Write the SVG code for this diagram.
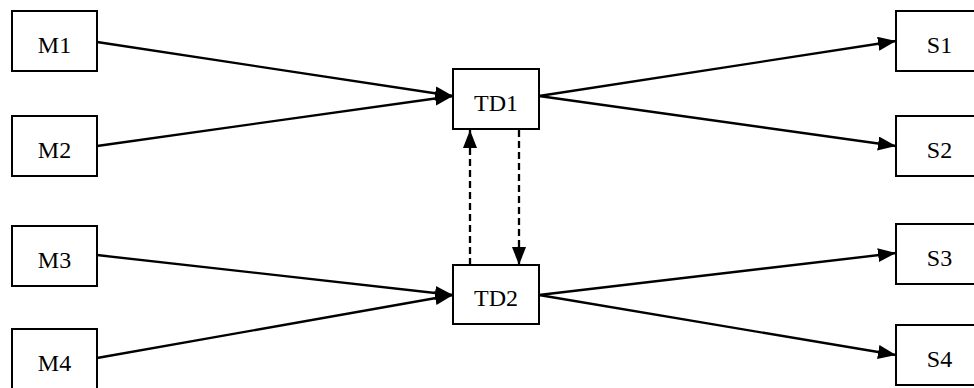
<svg xmlns="http://www.w3.org/2000/svg" width="974" height="388" viewBox="0 0 974 388">
  <style>
    .box { fill: #ffffff; stroke: #000000; stroke-width: 2; }
    .lbl { font-family: "Liberation Serif", "DejaVu Serif", serif; font-size: 24px; fill: #000000; text-anchor: middle; }
    .edge { stroke: #000000; stroke-width: 2.3; fill: none; marker-end: url(#arrow); }
    .dashed { stroke-dasharray: 7 4; }
  </style>
  <defs>
    <marker id="arrow" markerUnits="userSpaceOnUse" markerWidth="20" markerHeight="16" refX="18" refY="7" orient="auto">
      <path d="M0,0 L18,7 L0,14 z" fill="#000000"/>
    </marker>
  </defs>
  <rect width="974" height="388" fill="#ffffff"/>

  <g id="connectors">
    <line class="edge" x1="97" y1="42" x2="453" y2="96"/>
    <line class="edge" x1="97" y1="146" x2="453" y2="96"/>
    <line class="edge" x1="539" y1="96" x2="896" y2="41"/>
    <line class="edge" x1="539" y1="96" x2="896" y2="146"/>
    <line class="edge" x1="97" y1="255" x2="453" y2="295"/>
    <line class="edge" x1="97" y1="358" x2="453" y2="295"/>
    <line class="edge" x1="539" y1="295" x2="896" y2="253"/>
    <line class="edge" x1="539" y1="295" x2="896" y2="355"/>
    <line class="edge dashed" x1="470" y1="265" x2="470" y2="130"/>
    <line class="edge dashed" x1="519" y1="130" x2="519" y2="265"/>
  </g>

  <g id="M1"><rect class="box" x="12" y="11" width="85" height="60"/><text class="lbl" x="54.5" y="53">M1</text></g>
  <g id="M2"><rect class="box" x="12" y="116" width="85" height="60"/><text class="lbl" x="54.5" y="158">M2</text></g>
  <g id="M3"><rect class="box" x="12" y="226" width="85" height="60"/><text class="lbl" x="54.5" y="268">M3</text></g>
  <g id="M4"><rect class="box" x="12" y="329" width="85" height="60"/><text class="lbl" x="54.5" y="371">M4</text></g>

  <g id="TD1"><rect class="box" x="453" y="69" width="86" height="60"/><text class="lbl" x="496" y="111">TD1</text></g>
  <g id="TD2"><rect class="box" x="453" y="265" width="86" height="59"/><text class="lbl" x="496" y="306">TD2</text></g>

  <g id="S1"><rect class="box" x="896" y="11" width="87" height="60"/><text class="lbl" x="939.5" y="53">S1</text></g>
  <g id="S2"><rect class="box" x="896" y="116" width="87" height="60"/><text class="lbl" x="939.5" y="158">S2</text></g>
  <g id="S3"><rect class="box" x="896" y="224" width="87" height="60"/><text class="lbl" x="939.5" y="266">S3</text></g>
  <g id="S4"><rect class="box" x="896" y="325" width="87" height="60"/><text class="lbl" x="939.5" y="367">S4</text></g>
</svg>
